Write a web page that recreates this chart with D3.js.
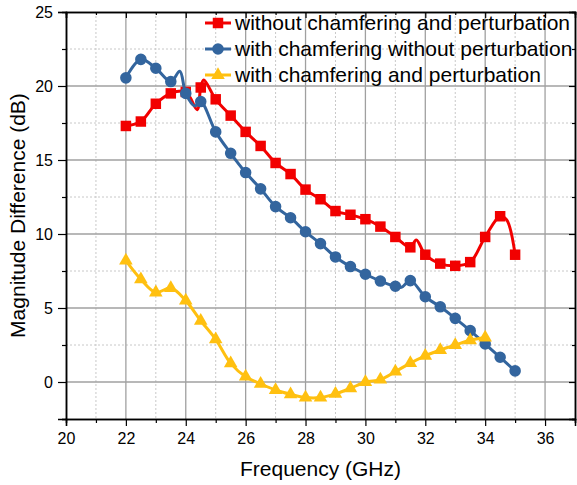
<!DOCTYPE html>
<html>
<head>
<meta charset="utf-8">
<script src="https://cdn.jsdelivr.net/npm/d3@7"></script>
<style>
  html, body { margin: 0; padding: 0; background: #fff; }
  svg { display: block; font-family: "Liberation Sans", Arial, sans-serif; }
</style>
</head>
<body>
<svg id="chart" width="577" height="485"></svg>
<script>
// ---------- data ----------
const freq = [22, 22.5, 23, 23.5, 24, 24.5, 25, 25.5, 26, 26.5, 27, 27.5, 28, 28.5, 29, 29.5, 30, 30.5, 31, 31.5, 32, 32.5, 33, 33.5, 34, 34.5, 35];
const redVals = [17.3, 17.6, 18.8, 19.5, 19.6, 19.9, 19.1, 18.0, 16.9, 15.95, 14.8, 14.05, 13.0, 12.35, 11.55, 11.3, 11.0, 10.5, 9.8, 9.1, 8.6, 8.0, 7.85, 8.1, 9.8, 11.2, 8.6];
const blueVals = [20.55, 21.8, 21.2, 20.3, 19.5, 18.95, 16.9, 15.45, 14.15, 13.05, 11.85, 11.1, 10.15, 9.35, 8.45, 7.8, 7.28, 6.82, 6.47, 6.85, 5.76, 5.08, 4.3, 3.47, 2.57, 1.67, 0.75];
const yellowFreq = [22, 22.5, 23, 23.5, 24, 24.5, 25, 25.5, 26, 26.5, 27, 27.5, 28, 28.5, 29, 29.5, 30, 30.5, 31, 31.5, 32, 32.5, 33, 33.5, 34];
const yellowVals = [8.2, 6.94, 6.05, 6.35, 5.5, 4.14, 2.88, 1.26, 0.36, -0.12, -0.54, -0.83, -1.05, -1.05, -0.8, -0.43, 0.0, 0.16, 0.7, 1.28, 1.77, 2.16, 2.5, 2.82, 3.0];
// extra (unmarked) points of the measured curves between markers
const redExtra = [[24.38, 18.4], [24.6, 20.4], [31.7, 9.6], [34.72, 10.95]];
const blueExtra = [[23.8, 21.0], [24.3, 18.65], [31.2, 6.4]];
const yellowExtra = [];

const seriesNames = ["without chamfering and perturbation", "with chamfering without perturbation", "with chamfering and perturbation"];
const seriesColors = ["#f20000", "#33659e", "#ffc010"];

const xMajor = [20, 22, 24, 26, 28, 30, 32, 34, 36];
const xMinor = [21, 23, 25, 27, 29, 31, 33, 35, 37];
const yMajor = [0, 5, 10, 15, 20, 25];
const yMinor = [-2.5, 2.5, 7.5, 12.5, 17.5, 22.5];
const xTitle = "Frequency (GHz)";
const yTitle = "Magnitude Difference (dB)";

// ---------- layout ----------
const svg = d3.select("#chart");
const L = 66, R = 575, T = 12, B = 419;
const x = d3.scaleLinear().domain([20, 37]).range([L, R]);
const y = d3.scaleLinear().domain([-2.5, 25]).range([B, T]);

// grid
const grid = svg.append("g");
grid.selectAll(".vmin").data(xMinor.filter(v => v < 37)).enter().append("line")
  .attr("x1", d => x(d)).attr("x2", d => x(d)).attr("y1", T).attr("y2", B)
  .attr("stroke", "#c8c8c8").attr("stroke-width", 1).attr("stroke-dasharray", "2,2");
grid.selectAll(".hmin").data(yMinor.filter(v => v > -2.5)).enter().append("line")
  .attr("y1", d => y(d)).attr("y2", d => y(d)).attr("x1", L).attr("x2", R)
  .attr("stroke", "#c8c8c8").attr("stroke-width", 1).attr("stroke-dasharray", "2,2");
grid.selectAll(".vmaj").data(xMajor.filter(v => v > 20)).enter().append("line")
  .attr("x1", d => x(d)).attr("x2", d => x(d)).attr("y1", T).attr("y2", B)
  .attr("stroke", "#a0a0a0").attr("stroke-width", 1.3);
grid.selectAll(".hmaj").data(yMajor.filter(v => v < 25)).enter().append("line")
  .attr("y1", d => y(d)).attr("y2", d => y(d)).attr("x1", L).attr("x2", R)
  .attr("stroke", "#a0a0a0").attr("stroke-width", 1.3);

// axes
function styleAxis(g) {
  g.select(".domain").attr("stroke", "#000").attr("stroke-width", 1.5);
  g.selectAll(".tick line").attr("stroke", "#000").attr("stroke-width", 1.2);
  g.selectAll("text").attr("font-size", "16px").attr("fill", "#000")
    .attr("font-family", "'Liberation Sans', Arial, sans-serif");
}
svg.append("g").attr("transform", `translate(0,${B})`)
  .call(d3.axisBottom(x).tickValues(xMajor).tickSize(7).tickPadding(7).tickFormat(d3.format("d"))).call(styleAxis);
svg.append("g").attr("transform", `translate(0,${B})`)
  .call(d3.axisBottom(x).tickValues(xMinor).tickSize(4).tickFormat("")).call(styleAxis);
svg.append("g").attr("transform", `translate(${L},0)`)
  .call(d3.axisLeft(y).tickValues(yMajor).tickSize(8).tickPadding(5).tickFormat(d3.format("d"))).call(styleAxis);
svg.append("g").attr("transform", `translate(${L},0)`)
  .call(d3.axisLeft(y).tickValues(yMinor).tickSize(4).tickFormat("")).call(styleAxis);
svg.append("g").attr("transform", `translate(0,${T})`)
  .call(d3.axisTop(x).tickValues(xMajor).tickSize(-6).tickFormat("")).call(styleAxis);
svg.append("g").attr("transform", `translate(0,${T})`)
  .call(d3.axisTop(x).tickValues(xMinor).tickSize(-3).tickFormat("")).call(styleAxis);
svg.append("g").attr("transform", `translate(${R},0)`)
  .call(d3.axisRight(y).tickValues(yMajor).tickSize(-6).tickFormat("")).call(styleAxis);
svg.append("g").attr("transform", `translate(${R},0)`)
  .call(d3.axisRight(y).tickValues(yMinor).tickSize(-3).tickFormat("")).call(styleAxis);

// titles
svg.append("text").attr("x", (L + R) / 2).attr("y", 476).attr("text-anchor", "middle")
  .attr("font-size", "21px").attr("fill", "#000").text(xTitle);
svg.append("text").attr("transform", `translate(25,${(T + B) / 2}) rotate(-90)`)
  .attr("text-anchor", "middle").attr("font-size", "21px").attr("fill", "#000").text(yTitle);

// series
const series = [
  { fx: freq, vals: redVals, extra: redExtra, sym: d3.symbolSquare, size: 110 },
  { fx: freq, vals: blueVals, extra: blueExtra, sym: d3.symbolCircle, size: 105 },
  { fx: yellowFreq, vals: yellowVals, extra: yellowExtra, sym: d3.symbolTriangle, size: 80 }
];
const line = d3.line().x(d => x(d[0])).y(d => y(d[1])).curve(d3.curveCatmullRom.alpha(0.5));
series.forEach((s, i) => {
  const pts = s.fx.map((f, k) => [f, s.vals[k]]);
  const all = pts.concat(s.extra).sort((a, b) => a[0] - b[0]);
  const g = svg.append("g");
  g.append("path").datum(all).attr("d", line).attr("fill", "none")
    .attr("stroke", seriesColors[i]).attr("stroke-width", 3).attr("stroke-linejoin", "round");
  g.selectAll("path.m").data(pts).enter().append("path").attr("class", "m")
    .attr("transform", d => `translate(${x(d[0])},${y(d[1])})`)
    .attr("d", d3.symbol().type(s.sym).size(s.size)).attr("fill", seriesColors[i]);
});

// legend
const legY = [23, 49, 75];
series.forEach((s, i) => {
  const g = svg.append("g").attr("transform", `translate(0,${legY[i]})`);
  g.append("line").attr("x1", 205).attr("x2", 231).attr("y1", 0).attr("y2", 0)
    .attr("stroke", seriesColors[i]).attr("stroke-width", 3);
  g.append("path").attr("transform", "translate(218,0)")
    .attr("d", d3.symbol().type(s.sym).size(s.size)).attr("fill", seriesColors[i]);
  g.append("text").attr("x", 235).attr("y", 0).attr("dy", "0.35em")
    .attr("font-size", "21px").attr("fill", "#000").text(seriesNames[i]);
});
</script>
</body>
</html>
